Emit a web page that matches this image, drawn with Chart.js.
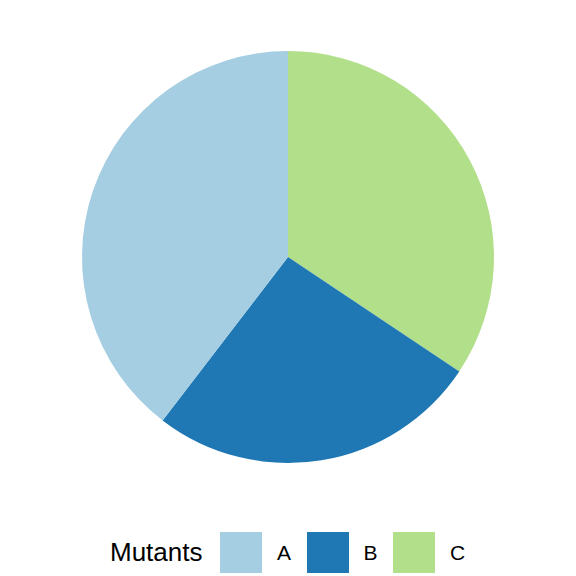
<!DOCTYPE html>
<html>
<head>
<meta charset="utf-8">
<script src="https://cdn.jsdelivr.net/npm/chart.js@4"></script>
<style>
    html, body { margin: 0; padding: 0; background: #fff; }
    body { width: 576px; height: 576px; position: relative; overflow: hidden; font-family: "Liberation Sans", Arial, sans-serif; }
    #chartBox { position: absolute; left: 0; top: 0; width: 576px; height: 514px; }
    #legend { position: absolute; left: 0; top: 532px; width: 576px; height: 41px; }
    .legend-title { position: absolute; left: 110px; top: 0; height: 41px; line-height: 41px; font-size: 26px; color: #000; }
    .legend-box { position: absolute; top: 0; width: 42px; height: 41px; }
    .legend-label { position: absolute; top: 0; height: 41px; line-height: 41px; font-size: 21px; color: #000; }
</style>
</head>
<body>
<div id="chartBox"><canvas id="pieChart"></canvas></div>
<div id="legend"></div>
<script>
// legend order
const categories = ['A', 'B', 'C'];
const counts = [38, 25, 33];
const colors = ['#A6CEE3', '#1F78B4', '#B2DF8A'];
const legendTitle = 'Mutants';

// ggplot draws the slices counter-clockwise from the top, so feed them reversed
const sliceLabels = categories.slice().reverse();
const sliceValues = counts.slice().reverse();
const sliceColors = colors.slice().reverse();

function buildLegend() {
    const legend = document.getElementById('legend');
    const title = document.createElement('div');
    title.className = 'legend-title';
    title.textContent = legendTitle;
    legend.appendChild(title);

    categories.forEach((cat, i) => {
        const x = 220 + i * 86.5;
        const box = document.createElement('div');
        box.className = 'legend-box';
        box.style.left = x + 'px';
        box.style.background = colors[i];
        legend.appendChild(box);

        const label = document.createElement('div');
        label.className = 'legend-label';
        label.style.left = (x + 57) + 'px';
        label.textContent = cat;
        legend.appendChild(label);
    });
}

function initializePieChart() {
    const ctx = document.getElementById('pieChart');
    new Chart(ctx, {
        type: 'pie',
        data: {
            labels: sliceLabels,
            datasets: [{
                data: sliceValues,
                backgroundColor: sliceColors,
                borderWidth: 0
            }]
        },
        options: {
            responsive: true,
            maintainAspectRatio: false,
            animation: false,
            rotation: 0,
            layout: {
                padding: { top: 51, bottom: 51, left: 0, right: 0 }
            },
            plugins: {
                legend: { display: false },
                tooltip: { enabled: false }
            }
        }
    });
}

buildLegend();
initializePieChart();
</script>
</body>
</html>
